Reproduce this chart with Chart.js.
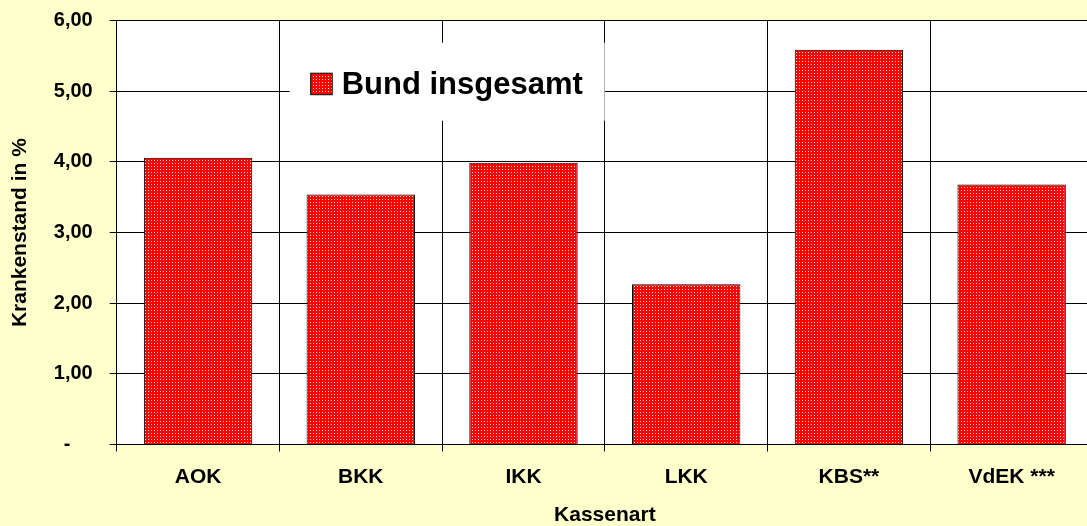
<!DOCTYPE html>
<html>
<head>
<meta charset="utf-8">
<script src="https://cdn.jsdelivr.net/npm/chart.js@4.4.1/dist/chart.umd.min.js"></script>
<style>
  html, body { margin: 0; padding: 0; background: #FFFFCC; overflow: hidden; }
  #chartMy1 { display: block; }
</style>
</head>
<body>
<canvas id="chartMy1" width="1100" height="526"></canvas>
<script>
var categories = ['AOK', 'BKK', 'IKK', 'LKK', 'KBS**', 'VdEK ***'];
var seriesName = 'Bund insgesamt';
var krankenstand = [4.06, 3.54, 3.99, 2.27, 5.59, 3.68];
// excel accounting format puts the zero dash in the middle
var yTickLabels = ['-\u00a0\u00a0\u00a0\u00a0', '1,00', '2,00', '3,00', '4,00', '5,00', '6,00'];

var FONT = '"Liberation Sans", Arial, sans-serif';

// red with white dots, like the excel fill
function dotPattern() {
     var c = document.createElement('canvas');
     c.width = 3; c.height = 3;
     var g = c.getContext('2d');
     g.fillStyle = '#FF0000';
     g.fillRect(0, 0, 3, 3);
     g.fillStyle = 'rgba(255,235,235,0.9)';
     g.fillRect(1, 1, 1, 1);
     return g.createPattern(c, 'repeat');
}

var backgroundPlugin = {
     id: 'bg',
     beforeDraw: function(chart) {
          var ctx = chart.ctx, a = chart.chartArea;
          ctx.save();
          ctx.fillStyle = '#FFFFCC';
          ctx.fillRect(0, 0, chart.width, chart.height);
          ctx.fillStyle = '#FFFFFF';
          ctx.fillRect(a.left, a.top, a.right - a.left, a.bottom - a.top);
          ctx.restore();
     }
};

// legend sits inside the plot area on a white box
var innerLegend = {
     id: 'innerLegend',
     beforeDatasetsDraw: function(chart) {
          var ctx = chart.ctx, a = chart.chartArea;
          var ds = chart.data.datasets[0];
          ctx.save();
          ctx.fillStyle = '#FFFFFF';
          ctx.fillRect(a.left + 173, a.top + 22, 315, 78);
          ctx.fillStyle = ds.backgroundColor;
          ctx.fillRect(a.left + 194, a.top + 52.5, 21.5, 21.5);
          ctx.strokeStyle = '#000';
          ctx.lineWidth = 1;
          ctx.strokeRect(a.left + 194, a.top + 52.5, 21.5, 21.5);
          ctx.fillStyle = '#000';
          ctx.font = 'bold 31px ' + FONT;
          ctx.textBaseline = 'alphabetic';
          ctx.fillText(ds.label, a.left + 225, a.top + 73.5);
          ctx.restore();
     }
};

window.onload = function() {
     var ctx = document.getElementById('chartMy1').getContext('2d');
     var config = {
          type: 'bar',
          data: {
               labels: categories,
               datasets: [{
                    label: seriesName,
                    data: krankenstand,
                    backgroundColor: dotPattern(),
                    borderColor: '#000000',
                    borderWidth: 1,
                    barPercentage: 0.666,
                    categoryPercentage: 1.0
               }]
          },
          options: {
               responsive: false,
               animation: false,
               layout: { padding: { left: 0, top: 20.7, right: 7, bottom: 0 } },
               plugins: {
                    legend: { display: false },
                    tooltip: { enabled: false }
               },
               scales: {
                    x: {
                         grid: { color: '#000', lineWidth: 1, offset: true, tickLength: 7 },
                         border: { color: '#000', width: 1 },
                         ticks: {
                              color: '#000', padding: 13,
                              font: { family: FONT, size: 21, weight: 'bold' }
                         },
                         title: {
                              display: true, text: 'Kassenart', color: '#000',
                              padding: { top: 0, bottom: -2 },
                              font: { family: FONT, size: 21, weight: 'bold' }
                         },
                         afterFit: function(s) { s.height = 81.5; }
                    },
                    y: {
                         min: 0, max: 6,
                         grid: { color: '#000', lineWidth: 1, tickLength: 7 },
                         border: { color: '#000', width: 1 },
                         ticks: {
                              stepSize: 1, color: '#000', padding: 17,
                              font: { family: FONT, size: 20, weight: 'bold' },
                              callback: function(v, i) { return yTickLabels[i]; }
                         },
                         title: {
                              display: true, text: 'Krankenstand in %', color: '#000',
                              padding: { top: 8, bottom: 0 },
                              font: { family: FONT, size: 21, weight: 'bold' }
                         },
                         afterFit: function(s) {
                              s.width = 116.7;
                              s.paddingTop = 0;
                              s.paddingBottom = 0;
                         }
                    }
               }
          },
          plugins: [backgroundPlugin, innerLegend]
     };
     window.myBar = new Chart(ctx, config);
};
</script>
</body>
</html>
